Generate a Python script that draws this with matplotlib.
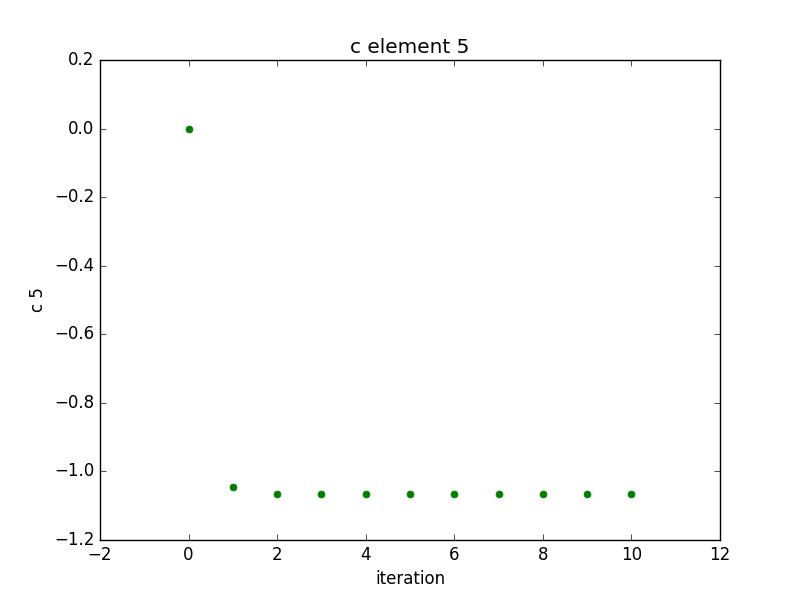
import matplotlib
matplotlib.use("Agg")
import matplotlib.pyplot as plt

plt.style.use("classic")

iterations = [0, 1, 2, 3, 4, 5, 6, 7, 8, 9, 10]
c5_values = [0.0, -1.046, -1.067, -1.067, -1.067, -1.067, -1.067, -1.067, -1.067, -1.067, -1.067]

fig, ax = plt.subplots(figsize=(8, 6), dpi=100)
ax.plot(iterations, c5_values, "o", color="green", markeredgecolor="green", markersize=5)
ax.set_xlim(-2, 12)
ax.set_ylim(-1.2, 0.2)
ax.set_title("c element 5")
ax.set_xlabel("iteration")
ax.set_ylabel("c 5")
fig.savefig("out.png", dpi=100)
